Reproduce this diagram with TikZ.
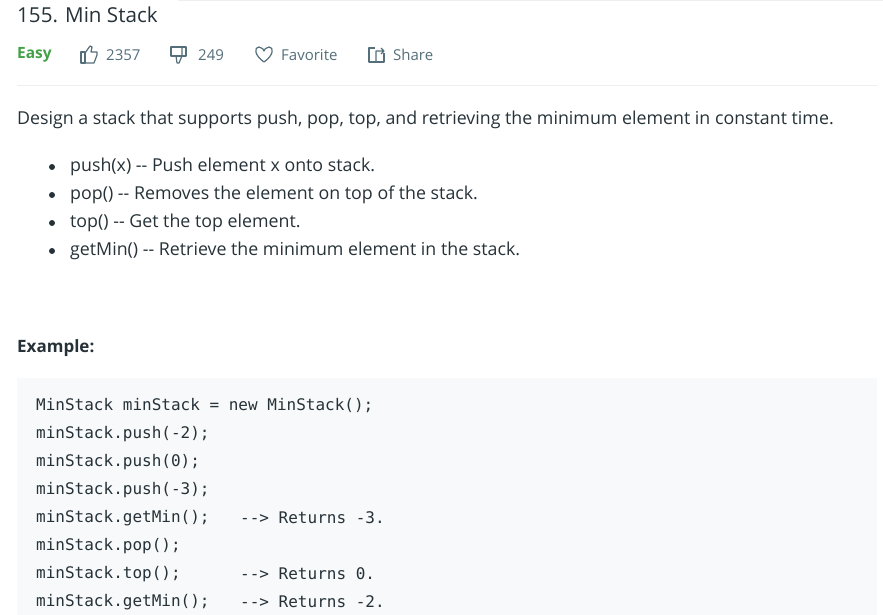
\documentclass[tikz,border=0pt]{standalone}
\usepackage{fontspec}
\setmainfont{Open Sans}
\newfontfamily\codefont{DejaVu Sans Mono}
\definecolor{ink}{HTML}{263238}
\definecolor{muted}{HTML}{546E7A}
\definecolor{easygreen}{HTML}{43A047}
\definecolor{rule}{HTML}{EEEEEE}
\definecolor{codebg}{HTML}{F7F9FA}
\tikzset{
  txt/.style={anchor=west, inner sep=0pt, text=ink, font=\fontsize{17.8}{20}\selectfont},
  meta/.style={anchor=west, inner sep=0pt, text=muted, font=\fontsize{15}{18}\selectfont},
  code/.style={anchor=west, inner sep=0pt, text=ink, font=\codefont\fontsize{16}{18}\selectfont},
  icon/.style={draw=muted, line width=1.2pt, line join=round},
  bullet/.style={circle, fill=ink, inner sep=0pt, minimum size=6pt}
}
\begin{document}
\begin{tikzpicture}[x=1pt, y=-1pt]
\useasboundingbox (0,0) rectangle (883,615);
% header
\draw[rule, line width=1pt] (178,1) -- (883,1);
\node[txt, font=\fontsize{20.6}{24}\selectfont] (title) at (17,15) {155. Min Stack};
\node[txt, text=easygreen, font=\bfseries\fontsize{15.5}{18}\selectfont] (easy) at (17,55) {Easy};
% thumbs up
\draw[icon] (81,52) rectangle (85,63);
\draw[icon] (85,63) -- (94,63) -- (97,55) -- (97,52) -- (91,52) -- (92,47) -- (90,46) -- (85,53);
\node[meta] (likes) at (106,55) {2357};
% thumbs down
\draw[icon] (171,47) -- (186,47) -- (186,56) -- (171,56) -- cycle;
\draw[icon] (182,47) -- (182,56) (176,56) -- (177,63) -- (179,63) -- (182,56);
\node[meta] (dislikes) at (198,55) {249};
% heart
\draw[icon] (264,62) .. controls (254,55) and (254,47) .. (259,47) .. controls (262,47) and (264,50) .. (264,51)
  .. controls (264,50) and (266,47) .. (269,47) .. controls (274,47) and (274,55) .. (264,62);
\node[meta] (fav) at (281,55) {Favorite};
% share
\draw[icon] (375,48) -- (369,48) -- (369,62) -- (384,62) -- (384,53);
\draw[icon] (376,62) -- (376,51) -- (384,51) (381,48) -- (384,51) -- (381,54);
\node[meta] (share) at (393,55) {Share};
\draw[rule, line width=1pt] (17,86) -- (877,86);
% description
\node[txt] (desc) at (17,120) {Design a stack that supports push, pop, top, and retrieving the minimum element in constant time.};
\foreach \y/\t in {167/push(x) -{}- Push element x onto stack.,
                   195/pop() -{}- Removes the element on top of the stack.,
                   223/top() -{}- Get the top element.,
                   251/getMin() -{}- Retrieve the minimum element in the stack.} {
  \node[bullet] at (52,\y) {};
  \node[txt] at (70,\y) {\t};
}
\node[txt, font=\bfseries\fontsize{17}{20}\selectfont] (example) at (17,348) {Example:};
% code block
\fill[codebg] (17,378) rectangle (877,615);
\foreach \y/\t in {406/MinStack minStack = new MinStack();,
                   434/minStack.push(-2);,
                   462/minStack.push(0);,
                   490/minStack.push(-3);,
                   518/minStack.getMin();,
                   546/minStack.pop();,
                   574/minStack.top();,
                   602/minStack.getMin();} {
  \node[code] at (36,\y) {\t};
}
\node[code] (r1) at (240,518) {-{}-> Returns -3.};
\node[code] (r2) at (240,574) {-{}-> Returns 0.};
\node[code] (r3) at (240,602) {-{}-> Returns -2.};
\end{tikzpicture}
\end{document}
